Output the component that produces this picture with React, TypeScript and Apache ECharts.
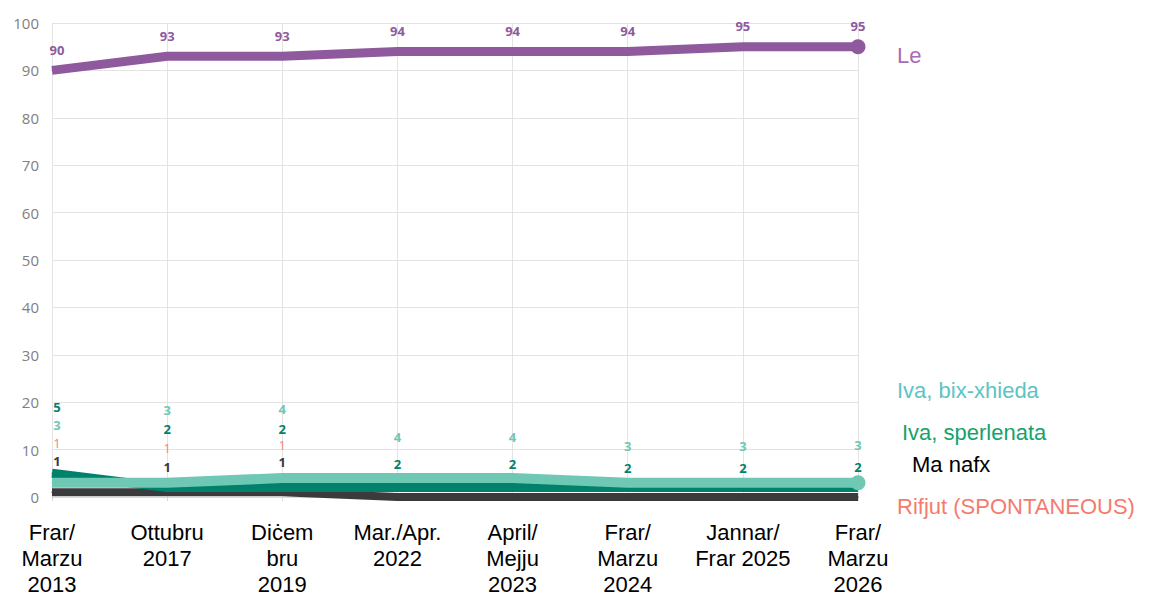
import React, { useEffect, useRef } from 'react';
import * as echarts from 'echarts';

const categories = [
  'Frar/\nMarzu\n2013',
  'Ottubru\n2017',
  'Diċem\nbru\n2019',
  'Mar./Apr.\n2022',
  'April/\nMejju\n2023',
  'Frar/\nMarzu\n2024',
  'Jannar/\nFrar 2025',
  'Frar/\nMarzu\n2026',
];
const le = [90, 93, 93, 94, 94, 94, 95, 95];
const ivaBixXhieda = [3, 3, 4, 4, 4, 3, 3, 3];
const ivaSperlenata = [5, 2, 2, 2, 2, 2, 2, 2];
const maNafx = [1, 1, 1, 0, 0, 0, 0, 0];
const rifjut = [1, 1, 1, 0, 0, 0, 0, 0];

const seriesNames = ['Le', 'Iva, bix-xhieda', 'Iva, sperlenata', 'Ma nafx', 'Rifjut (SPONTANEOUS)'];

// label placement (pixels above the point)
const liftLe = [20, 20, 20, 20, 20, 20, 21, 21];
const liftTeal = [58, 73, 69, 41, 41, 37, 37, 38];
const liftGreen = [66, 59, 59, 24, 24, 20, 20, 21];
const liftRif = [49, 44, 47, 0, 0, 0, 0, 0];
const liftDark = [31, 25, 30, 0, 0, 0, 0, 0];

const PURPLE = '#8e5a9d';
const TEAL = '#6fc8b4';
const GREEN = '#00816b';
const DARK = '#3b3a3c';
const SALMON = '#f4837a';

function withLabels(values: number[], lift: number[]) {
  return values.map((v, i) => ({ value: v, label: { offset: [i === 0 ? 5 : 0, -lift[i]] } }));
}

export default function App() {
  const ref = useRef<HTMLDivElement>(null);
  useEffect(() => {
    document.body.style.margin = '0';
    const chart = echarts.init(ref.current!, null, { renderer: 'svg' });
    const last = categories.length - 1;
    const labelFont = {
      fontFamily: "'Open Sans', 'DejaVu Sans', sans-serif",
      fontWeight: 'bold' as const,
      fontSize: 13,
      lineHeight: 13,
    };
    const fmt = (p: any) => (p.value === 0 ? '' : String(p.value));
    const mk = (
      name: string,
      values: number[],
      lift: number[],
      color: string,
      width: number,
      endSymbol: boolean,
      labelColor: string,
      z: number,
      weight: string = 'bold'
    ) => ({
      type: 'line',
      name,
      data: withLabels(values, lift),
      symbol: 'circle',
      symbolSize: (_v: any, p: any) => (endSymbol && p.dataIndex === last ? 15 : 1),
      showSymbol: true,
      itemStyle: { color },
      lineStyle: { color, width },
      z,
      label: {
        show: true,
        position: 'inside',
        formatter: fmt,
        color: labelColor,
        ...labelFont,
        fontWeight: weight,
      },
    });

    chart.setOption({
      animation: false,
      backgroundColor: '#ffffff',
      grid: { left: 52, right: 299, top: 23, bottom: 98 },
      xAxis: {
        type: 'category',
        data: categories,
        boundaryGap: false,
        axisLine: { show: true, lineStyle: { color: '#d9d9d9' } },
        axisTick: { show: true, length: 4, lineStyle: { color: '#d9d9d9' } },
        splitLine: { show: true, lineStyle: { color: '#e3e3e3', width: 1 } },
        axisLabel: {
          color: '#000',
          fontFamily: "'Liberation Sans', Arial, sans-serif",
          fontSize: 22,
          lineHeight: 26,
          margin: 22,
          interval: 0,
        },
      },
      yAxis: {
        type: 'value',
        min: 0,
        max: 100,
        interval: 10,
        axisLine: { show: false },
        axisTick: { show: false },
        splitLine: { show: true, lineStyle: { color: '#e3e3e3', width: 1 } },
        axisLabel: {
          color: '#808080',
          fontFamily: "'Open Sans', 'DejaVu Sans', sans-serif",
          fontSize: 15,
          margin: 13,
        },
      },
      series: [
        mk(seriesNames[4], rifjut, liftRif, SALMON, 6, false, SALMON, 1, 'normal'),
        mk(seriesNames[3], maNafx, liftDark, DARK, 8, false, DARK, 2),
        mk(seriesNames[2], ivaSperlenata, liftGreen, GREEN, 9, false, GREEN, 3),
        mk(seriesNames[1], ivaBixXhieda, liftTeal, TEAL, 10, true, TEAL, 4),
        mk(seriesNames[0], le, liftLe, PURPLE, 9, true, PURPLE, 5),
      ],
      graphic: [
        { type: 'text', left: 897, top: 44, style: { text: seriesNames[0], fill: '#a86bb8', font: "22px 'Liberation Sans', Arial, sans-serif" } },
        { type: 'text', left: 897, top: 379, style: { text: seriesNames[1], fill: '#5cc4c4', font: "22px 'Liberation Sans', Arial, sans-serif" } },
        { type: 'text', left: 902, top: 421, style: { text: seriesNames[2], fill: '#15a36a', font: "22px 'Liberation Sans', Arial, sans-serif" } },
        { type: 'text', left: 912, top: 453, style: { text: seriesNames[3], fill: '#000000', font: "22px 'Liberation Sans', Arial, sans-serif" } },
        { type: 'text', left: 897, top: 495, style: { text: seriesNames[4], fill: '#f47b6e', font: "22px 'Liberation Sans', Arial, sans-serif" } },
      ],
    });
    return () => chart.dispose();
  }, []);
  return <div ref={ref} style={{ width: 1157, height: 597 }} />;
}
